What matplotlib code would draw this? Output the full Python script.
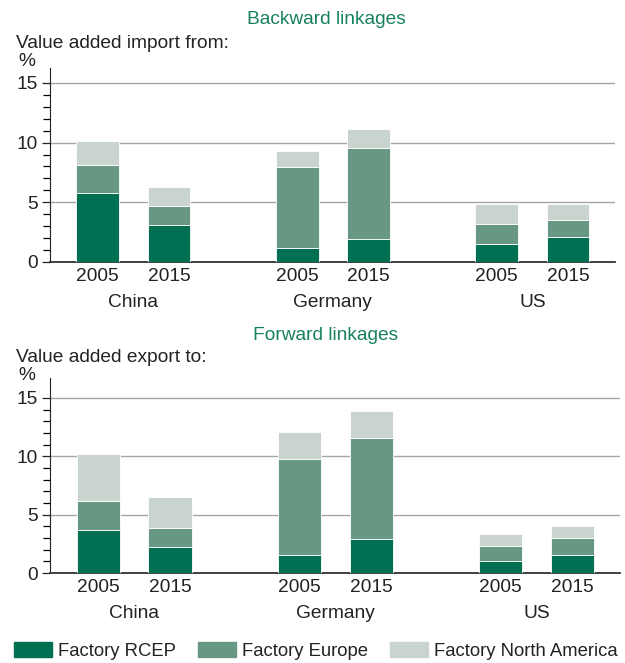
import matplotlib.pyplot as plt
import numpy as np

plt.rcParams['font.family'] = ['Liberation Sans', 'DejaVu Sans']

countries = ["China", "Germany", "US"]
years = ["2005", "2015"]
series = ["Factory RCEP", "Factory Europe", "Factory North America"]
colours = ["#006f52", "#689784", "#c9d4ce"]

# backward linkages (value added import from), order: China05, China15, Ger05, Ger15, US05, US15
back_rcep = [5.8, 3.06, 1.18, 1.93, 1.49, 2.07]
back_europe = [2.36, 1.62, 6.78, 7.63, 1.73, 1.46]
back_na = [1.96, 1.63, 1.35, 1.60, 1.68, 1.37]

# forward linkages (value added export to)
fwd_rcep = [3.68, 2.24, 1.58, 2.93, 1.03, 1.55]
fwd_europe = [2.50, 1.61, 8.19, 8.62, 1.27, 1.41]
fwd_na = [4.05, 2.70, 2.27, 2.36, 1.00, 1.06]

group_gap = 2.8
xpos = np.array([g * group_gap + k for g in range(len(countries)) for k in range(len(years))])
xlabels = years * len(countries)
bar_w = 0.6
fs = 13.8

fig = plt.figure(figsize=(6.25, 6.63), dpi=100)
W, H = 625, 663

def panel(box, data, ymax, title, subtitle, title_y, sub_y):
    l, t, r, b = box
    ax = fig.add_axes([l / W, 1 - b / H, (r - l) / W, (b - t) / H])
    bottom = np.zeros(len(xpos))
    for vals, c in zip(data, colours):
        ax.bar(xpos, vals, bar_w, bottom=bottom, color=c, edgecolor="white", linewidth=0.6, zorder=3)
        bottom += np.array(vals)
    ax.set_xlim(-0.67, 7.26)
    ax.set_ylim(0, ymax)
    ax.set_yticks([0, 5, 10, 15])
    ax.set_yticks(np.arange(0, 16, 1), minor=True)
    ax.yaxis.grid(True, color="#a6a6a6", linewidth=1.0, zorder=0)
    ax.set_xticks(xpos)
    ax.set_xticklabels(xlabels)
    ax.tick_params(axis="x", length=0, pad=4, labelsize=fs, colors="#222222")
    ax.tick_params(axis="y", which="major", length=6, width=0.9, labelsize=fs, pad=3, colors="#222222")
    ax.tick_params(axis="y", which="minor", length=5, width=0.9)
    for s in ["top", "right"]:
        ax.spines[s].set_visible(False)
    ax.spines["left"].set_color("#222222")
    ax.spines["bottom"].set_color("#333333")
    ax.spines["bottom"].set_linewidth(1.3)
    for g, name in enumerate(countries):
        ax.annotate(name, xy=(g * group_gap + 0.5, 0), xycoords=("data", "axes fraction"),
                    xytext=(0, -29), textcoords="offset points", ha="center", va="center",
                    fontsize=fs, color="#222222")
    fig.text(326 / W, 1 - title_y / H, title, ha="center", va="center", fontsize=fs, color="#17805e")
    fig.text(16 / W, 1 - sub_y / H, subtitle, ha="left", va="center", fontsize=fs, color="#222222")
    fig.text(18 / W, 1 - (sub_y + 18) / H, "%", ha="left", va="center", fontsize=fs, color="#222222")
    return ax

panel((50, 68, 615, 262), [back_rcep, back_europe, back_na], 16.25,
      "Backward linkages", "Value added import from:", 20, 43)
panel((50, 378, 620, 573), [fwd_rcep, fwd_europe, fwd_na], 16.7,
      "Forward linkages", "Value added export to:", 335, 358)

handles = [plt.Rectangle((0, 0), 1, 1, color=c) for c in colours]
fig.legend(handles, series, loc="lower left", bbox_to_anchor=(14 / W, 3 / H), ncol=3,
           frameon=False, fontsize=13.3, handlelength=2.05, handleheight=0.9,
           handletextpad=0.32, columnspacing=1.2, borderpad=0, borderaxespad=0,
           labelcolor="#222222")

fig.savefig("out.png", dpi=100)
